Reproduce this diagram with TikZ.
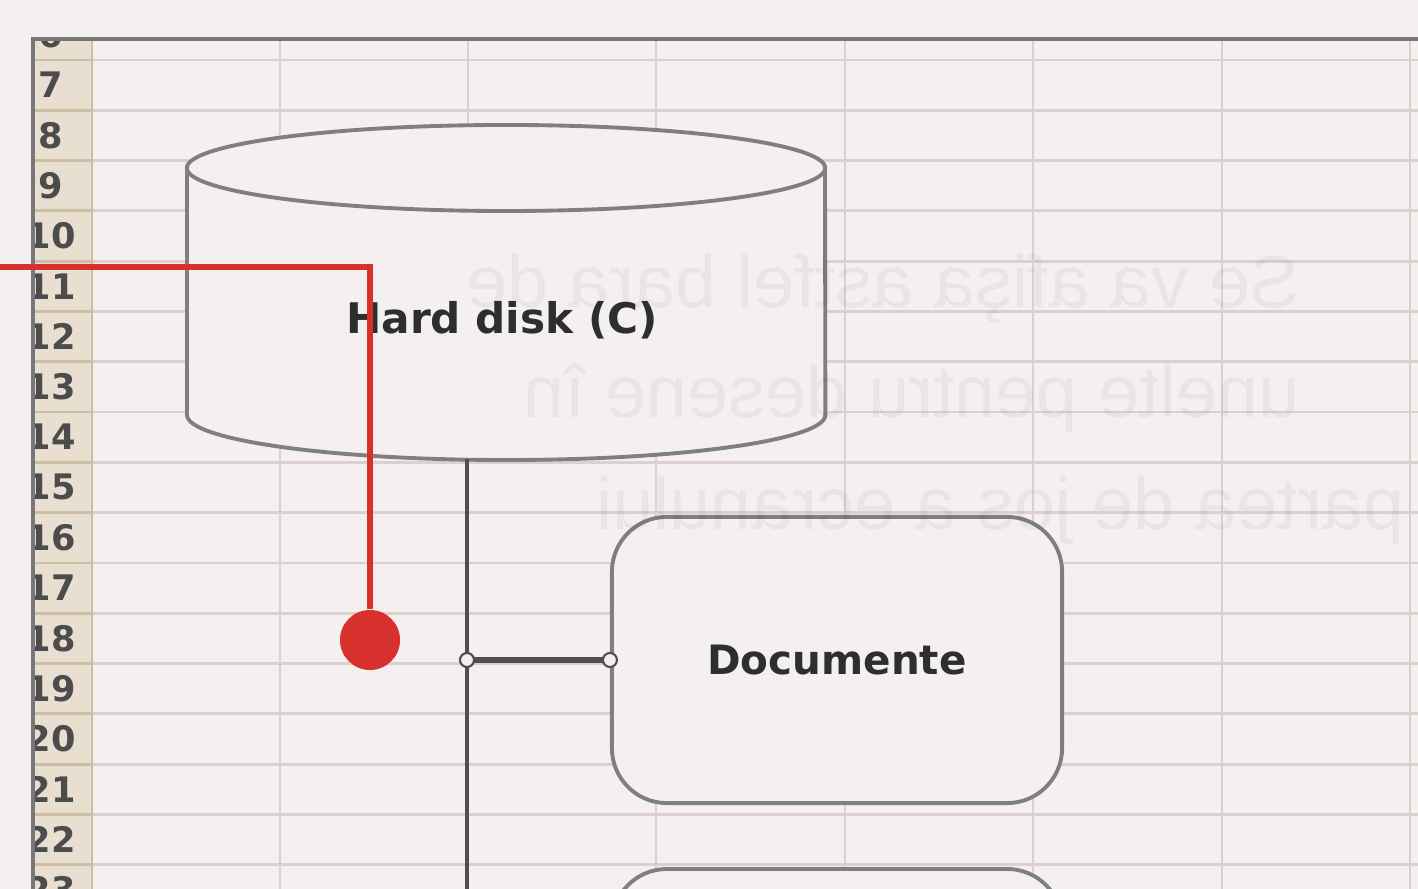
\documentclass[tikz,border=0pt]{standalone}
\usepackage{fontspec}
\setmainfont{DejaVu Sans}
\newfontfamily\ghostfont{Liberation Sans}
\usetikzlibrary{positioning}
\definecolor{paper}{HTML}{F3F0EF}
\definecolor{cellline}{HTML}{DDCFCF}
\definecolor{headfill}{HTML}{E9DFD0}
\definecolor{headline}{HTML}{CCBDA3}
\definecolor{frame}{HTML}{777777}
\definecolor{shapeline}{HTML}{7F7F7F}
\definecolor{linkgray}{HTML}{4F4F4F}
\definecolor{pinred}{HTML}{D8302C}
\begin{document}
\begin{tikzpicture}[x=0.01cm, y=-0.01cm,
  disk/.style={draw=shapeline, line width=1.1pt, fill=paper},
  label/.style={font=\bfseries\fontsize{12}{14}\selectfont, text=black!82},
  folder/.style={draw=shapeline, line width=1.1pt, fill=paper, rounded corners=0.55cm, minimum width=4.5cm, minimum height=2.86cm, label},
  link/.style={draw=linkgray, line width=1.2pt},
  knob/.style={circle, draw=linkgray, line width=0.6pt, fill=paper, inner sep=0pt, minimum size=0.14cm},
  pin/.style={circle, fill=pinred, inner sep=0pt, minimum size=0.6cm},
  redline/.style={draw=pinred, line width=1.5pt},
  rownum/.style={font=\bfseries\fontsize{10}{12}\selectfont, text=black!70},
  ghost/.style={font=\ghostfont\fontsize{21}{24}\selectfont, text=black, opacity=0.045, xscale=-1, anchor=base west, inner sep=0pt}
]
\useasboundingbox (0,0) rectangle (1418,889);
\fill[paper] (0,0) rectangle (1418,889);
\fill[headfill] (33,38) rectangle (92,889);
\foreach \r in {0,...,16} {
  \draw[cellline, line width=0.8pt] (92,{60+50.3*\r}) -- (1418,{60+50.3*\r});
  \draw[headline, line width=0.8pt] (33,{60+50.3*\r}) -- (92,{60+50.3*\r});
}
\foreach \c in {280,468,656,845,1033,1222,1410}
  \draw[cellline, line width=0.8pt] (\c,38) -- (\c,889);
\draw[headline, line width=0.8pt] (92,38) -- (92,889);
\begin{scope}
  \clip (35,41) rectangle (92,889);
  \foreach \n in {6,...,23}
    \node[rownum] at (51,{85+50.3*(\n-7)}) {\n};
\end{scope}
\draw[frame, line width=1.2pt] (33,889) -- (33,39) -- (1418,39);
\draw[disk] (187,168) -- (187,415) arc[start angle=180, end angle=360, x radius=3.19cm, y radius=0.45cm] -- (825,168);
\draw[disk] (506,168) ellipse[x radius=3.19cm, y radius=0.43cm];
\node[label] (hdd) at (502,320) {Hard disk (C)};
\node[folder, font=\bfseries\fontsize{11.5}{14}\selectfont] (docs) at (837,660) {Documente};
\node[folder, below=0.62cm of docs] (more) {};
\coordinate (hddfoot) at (467,459);
\coordinate (bus) at (hddfoot |- docs.west);
\coordinate (busend) at (467,900);
\draw[link] (hddfoot) -- (busend);
\draw[link, line width=1.5pt] (bus) -- (docs.west);
\node[knob] at (bus) {};
\node[knob] at (docs.west) {};
\node[pin] (dot) at (370,640) {};
\coordinate (redin) at (-10,267);
\draw[redline] (redin) -| (dot);
\node[ghost] at (1300,308) {Se va afişa astfel bara de};
\node[ghost] at (1300,418) {unelte pentru desene în};
\node[ghost] at (1405,530) {partea de jos a ecranului};
\end{tikzpicture}
\end{document}
